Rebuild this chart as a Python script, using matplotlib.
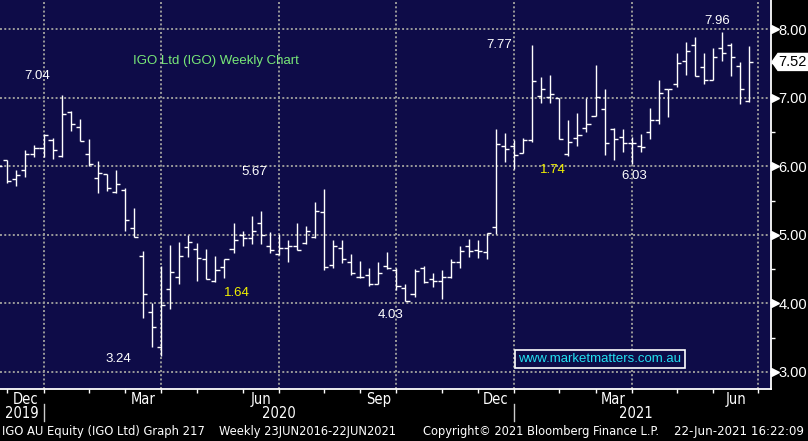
import numpy as np
import matplotlib
matplotlib.use("Agg")
import matplotlib.pyplot as plt
from matplotlib import font_manager
from matplotlib.font_manager import FontProperties
from matplotlib.transforms import blended_transform_factory
from matplotlib.patches import Polygon

# ---------------- data (weekly OHLC, IGO AU) ----------------
opens = [6.05, 6.09, 5.81, 5.94, 6.18, 6.26, 6.38, 6.15, 6.79, 6.57,
         6.18, 5.83, 5.885, 5.62, 5.66, 5.10, 4.69, 3.88, 3.37, 4.21,
         4.38, 4.82, 4.79, 4.64, 4.33, 4.535, 4.79, 4.99, 4.96, 5.17,
         4.84, 4.72, 4.81, 4.83, 4.88, 4.97, 5.33, 4.56, 4.81, 4.60,
         4.39, 4.42, 4.29, 4.55, 4.485, 4.22, 4.135, 4.51, 4.355, 4.32,
         4.38, 4.60, 4.83, 4.78, 4.745, 5.115, 6.30, 6.29, 6.19, 6.38,
         7.03, 7.01, 6.99, 6.18, 6.41, 6.55, 6.73, 6.84, 6.54, 6.42,
         6.34, 6.29, 6.50, 6.68, 7.12, 7.195, 7.53, 7.76, 7.45, 7.26,
         7.72, 7.77, 7.46, 6.95]
highs = [6.12, 6.09, 5.94, 6.24, 6.31, 6.47, 6.41, 7.04, 6.80, 6.69,
         6.40, 6.08, 5.885, 5.95, 5.68, 5.39, 4.76, 4.01, 4.54, 4.85,
         4.90, 5.00, 4.885, 4.80, 4.69, 4.65, 5.17, 5.06, 5.28, 5.35,
         5.04, 5.01, 4.92, 5.17, 5.13, 5.48, 5.67, 4.93, 4.93, 4.72,
         4.62, 4.52, 4.60, 4.745, 4.52, 4.29, 4.50, 4.54, 4.44, 4.485,
         4.645, 4.83, 4.94, 4.92, 5.03, 6.54, 6.49, 6.38, 6.415, 7.77,
         7.30, 7.33, 6.99, 6.68, 6.78, 6.99, 7.47, 7.13, 6.55, 6.54,
         6.42, 6.47, 6.85, 7.26, 7.13, 7.65, 7.81, 7.88, 7.65, 7.72,
         7.96, 7.79, 7.52, 7.75]
lows = [5.95, 5.76, 5.71, 5.84, 6.14, 6.13, 6.11, 6.14, 6.52, 6.37,
        6.00, 5.61, 5.64, 5.61, 5.05, 4.97, 3.79, 3.37, 3.24, 3.92,
        4.29, 4.67, 4.33, 4.35, 4.31, 4.37, 4.73, 4.83, 4.86, 4.86,
        4.73, 4.70, 4.61, 4.78, 4.87, 4.96, 4.48, 4.52, 4.59, 4.42,
        4.375, 4.26, 4.29, 4.50, 4.19, 4.03, 4.10, 4.30, 4.245, 4.06,
        4.365, 4.52, 4.68, 4.66, 4.64, 5.01, 6.06, 5.96, 6.19, 6.36,
        6.92, 6.92, 6.39, 6.15, 6.30, 6.50, 6.73, 6.17, 6.09, 6.20,
        6.03, 6.20, 6.39, 6.61, 6.72, 7.15, 7.33, 7.32, 7.20, 7.25,
        7.54, 7.31, 6.91, 6.94]
closes = [6.00, 5.78, 5.87, 6.18, 6.26, 6.45, 6.23, 6.76, 6.62, 6.37,
          6.03, 5.90, 5.68, 5.74, 5.21, 4.97, 4.14, 3.65, 3.97, 4.46,
          4.69, 4.89, 4.66, 4.35, 4.48, 4.65, 4.93, 4.96, 5.06, 5.00,
          4.78, 4.81, 4.83, 4.78, 5.05, 5.35, 4.53, 4.83, 4.64, 4.44,
          4.39, 4.29, 4.44, 4.51, 4.25, 4.04, 4.47, 4.31, 4.32, 4.38,
          4.60, 4.76, 4.76, 4.76, 5.03, 6.32, 6.25, 6.17, 6.38, 7.24,
          7.13, 7.05, 6.40, 6.36, 6.45, 6.62, 7.01, 6.34, 6.39, 6.34,
          6.34, 6.28, 6.67, 7.06, 7.12, 7.50, 7.68, 7.32, 7.26, 7.585,
          7.65, 7.585, 7.13, 7.52]
weeks = np.arange(-1, len(opens) - 1)  # week index (0 = first full week shown)

month_tick_weeks = [0, 4, 9, 13, 17, 21, 26, 30, 35, 39, 43, 48, 52, 56, 61, 65, 69, 74, 78, 83]
quarter_grid_weeks = [4, 17, 30, 43, 56, 69, 83]
month_label_weeks = [2, 15, 28, 41, 54, 67, 80.5]
month_labels = ["Dec", "Mar", "Jun", "Sep", "Dec", "Mar", "Jun"]
year_label_weeks = [1.6, 30, 69.5]
year_labels = ["2019", "2020", "2021"]
year_sep_weeks = [4, 56]
price_ticks = [3, 4, 5, 6, 7, 8]
price_minor = [3.5, 4.5, 5.5, 6.5, 7.5]
last_price = 7.52

# annotations: (text, week, price, colour)
notes = [("7.04", 3.28, 7.315, "white"), ("5.67", 27.26, 5.915, "white"),
         ("3.24", 12.24, 3.19, "white"), ("1.64", 25.38, 4.156, "#f2f200"),
         ("4.03", 42.4, 3.83, "white"), ("7.77", 54.3, 7.767, "white"),
         ("1.74", 60.3, 5.945, "#f2f200"), ("6.03", 69.3, 5.85, "white"),
         ("7.96", 78.4, 8.117, "white")]

footer = [("IGO AU Equity (IGO Ltd) Graph 217", 2, 206),
          ("Weekly 23JUN2016-22JUN2021", 219, 397),
          ("Copyright\u00a9 2021 Bloomberg Finance L.P.", 423, 662),
          ("22-Jun-2021 16:22:09", 674, 805)]

# ---------------- fonts ----------------
names = {f.name for f in font_manager.fontManager.ttflist}
REG = "Liberation Sans" if "Liberation Sans" in names else "DejaVu Sans"
narrow_fp = None
for f in font_manager.fontManager.ttflist:
    if f.name == "Liberation Sans Narrow" and f.weight in (400, "normal") and f.style == "normal":
        narrow_fp = FontProperties(fname=f.fname)
        break
if narrow_fp is None:
    for f in font_manager.fontManager.ttflist:
        if (f.stretch in ("condensed", "semi-condensed") and f.style == "normal"
                and f.weight in (400, "normal") and f.name in ("DejaVu Sans", "Roboto", "Open Sans", "Noto Sans")):
            narrow_fp = FontProperties(fname=f.fname)
            break
if narrow_fp is None:
    narrow_fp = FontProperties(family=REG)


def nfp(size):
    fp = narrow_fp.copy()
    fp.set_size(size)
    return fp


BG = "#0e0c48"
GRID = "#9a9a9a"

W, H = 808, 441
fig = plt.figure(figsize=(W / 100, H / 100), dpi=100, facecolor="black")
ax = fig.add_axes([0, 1 - 389 / H, 771 / W, 389 / H])
ax.set_facecolor(BG)
ax.set_xlim(-0.807, 84.39)
ax.set_ylim(2.752, 8.423)

# grid
for yv in price_ticks:
    ax.axhline(yv, color=GRID, lw=1.4, dashes=(1, 1.2), zorder=1)
for xv in quarter_grid_weeks:
    ax.axvline(xv, color=GRID, lw=1.4, dashes=(1, 1.2), zorder=1)

# OHLC bars
tk = 0.45
ax.vlines(weeks, lows, highs, color="white", lw=1.0, zorder=3)
ax.hlines(opens, weeks - tk, weeks, color="white", lw=1.0, zorder=3)
ax.hlines(closes, weeks, weeks + tk, color="white", lw=1.0, zorder=3)

# spines
for s in ["top", "left"]:
    ax.spines[s].set_visible(False)
for s in ["right", "bottom"]:
    ax.spines[s].set_color("white")
    ax.spines[s].set_linewidth(1.3)

# y axis on the right
ax.yaxis.tick_right()
ax.set_yticks(price_ticks)
ax.set_yticklabels([f"{v:.2f}" for v in price_ticks], color="white",
                   fontsize=10.5, family=REG)
ax.set_yticks(price_minor, minor=True)
ax.tick_params(axis="y", which="major", length=0, pad=5.5)
ax.tick_params(axis="y", which="minor", length=3, width=1, color="white", direction="out")
tri = blended_transform_factory(ax.transAxes, ax.transData)
ax.plot([1.0055] * len(price_ticks), price_ticks, ls="none", marker=">", ms=5.5,
        color="white", transform=tri, clip_on=False, zorder=5)

# x axis
ax.set_xticks(month_tick_weeks)
ax.set_xticklabels([])
ax.set_xticks(month_label_weeks, minor=True)
ax.set_xticklabels(month_labels, minor=True, color="white", fontproperties=nfp(10.5))
ax.tick_params(axis="x", which="major", length=3, width=1, color="white", direction="out")
ax.tick_params(axis="x", which="minor", length=0, pad=2)

ytr = blended_transform_factory(ax.transData, fig.transFigure)
for xv, lab in zip(year_label_weeks, year_labels):
    ax.text(xv, 1 - 413 / H, lab, transform=ytr, ha="center", va="center",
            color="white", fontproperties=nfp(10.5), clip_on=False)
for xv in year_sep_weeks:
    ax.plot([xv, xv], [1 - 421 / H, 1 - 404 / H], transform=ytr, color="#cccccc",
            lw=1, clip_on=False)

# annotations
for txt, xv, yv, col in notes:
    ax.text(xv, yv, txt, ha="center", va="center", color=col, fontsize=9.5,
            family=REG, zorder=6)
ax.text(13.9, 7.53, "IGO Ltd (IGO) Weekly Chart", ha="left", va="center",
        color="#78e878", fontsize=9.5, family=REG, zorder=6)

# watermark
fig.text(600 / W, 1 - 359 / H, "www.marketmatters.com.au", ha="center", va="center",
         color="#22e0f0", fontsize=9.5, family=REG,
         bbox=dict(boxstyle="square,pad=0.25", fc=BG, ec="white", lw=1.2))

# footer, sized to fit the reference widths
fig.canvas.draw()
renderer = fig.canvas.get_renderer()
foot_y = 1 - 432 / H
for txt, x0, x1 in footer:
    t = fig.text(x0 / W, foot_y, txt, ha="left", va="center", color="white",
                 fontproperties=nfp(10.5))
    wpx = t.get_window_extent(renderer).width
    size = min(11.0, 10.5 * (x1 - x0) / wpx)
    t.set_fontproperties(nfp(size))

# last price tag
ypx = ax.transData.transform((0, last_price))[1]
poly_px = [(772, ypx), (778, ypx + 8.5), (808, ypx + 8.5), (808, ypx - 8.5), (778, ypx - 8.5)]
poly = Polygon([(px / W, py / H) for px, py in poly_px], closed=True,
               transform=fig.transFigure, fc="white", ec="white", lw=1, zorder=10)
fig.patches.append(poly)
fig.text(792 / W, ypx / H, f"{last_price:.2f}", ha="center", va="center",
         color="black", fontsize=10.5, family=REG, zorder=11)

fig.savefig("out.png", dpi=100, facecolor="black")
